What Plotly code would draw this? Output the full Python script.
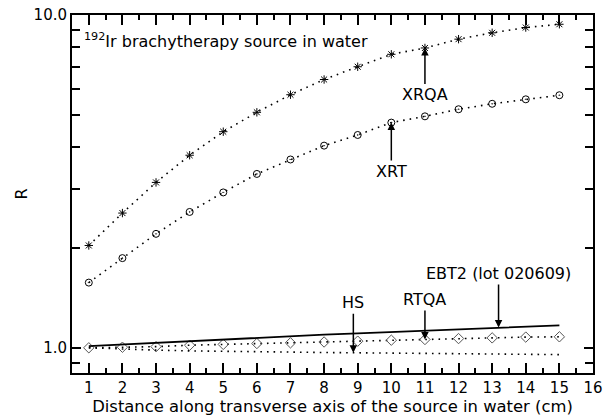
import math
import plotly.graph_objects as go

# ---- data ----
distance = [1, 2, 3, 4, 5, 6, 7, 8, 9, 10, 11, 12, 13, 14, 15]
xrqa = [2.03, 2.54, 3.14, 3.79, 4.46, 5.10, 5.76, 6.40, 6.99, 7.62, 7.96, 8.46, 8.84, 9.17, 9.38]
xrt = [1.57, 1.86, 2.20, 2.56, 2.93, 3.33, 3.68, 4.05, 4.36, 4.75, 4.96, 5.21, 5.41, 5.58, 5.74]
rtqa = [1.000, 1.004, 1.008, 1.018, 1.024, 1.030, 1.035, 1.041, 1.047, 1.054, 1.059, 1.066, 1.071, 1.077, 1.079]
ebt2 = [1.011, 1.023, 1.035, 1.047, 1.059, 1.071, 1.083, 1.095, 1.105, 1.116, 1.127, 1.137, 1.148, 1.158, 1.168]
hs = [1.000, 0.990, 0.984, 0.979, 0.975, 0.972, 0.970, 0.968, 0.966, 0.964, 0.962, 0.960, 0.958, 0.956, 0.954]

x_ticks = list(range(1, 17))
y_ticks = [1, 10]
y_ticktext = ["1.0", "10.0"]
y_minor_ticks = [0.9, 2, 3, 4, 5, 6, 7, 8, 9]

# annotation targets: label, x, y, pixel offset of label centre
ann_labels = ["XRQA", "XRT", "EBT2 (lot 020609)", "RTQA", "HS"]
ann_x = [11, 10, 13.19, 11, 8.87]
ann_y = [7.96, 4.75, 1.151, 1.059, 0.967]
ann_ay = [47, 49, -54, -40, -50]

FONT = "DejaVu Sans, Liberation Sans, Arial"
DOT = "1.6px,5px"

fig = go.Figure()
fig.add_trace(go.Scatter(x=distance, y=xrqa, mode="lines+markers", name="XRQA",
                         line=dict(color="black", width=1.6, dash=DOT),
                         marker=dict(symbol="asterisk-open", size=7,
                                     line=dict(color="black", width=1))))
fig.add_trace(go.Scatter(x=distance, y=xrt, mode="lines+markers", name="XRT",
                         line=dict(color="black", width=1.6, dash=DOT),
                         marker=dict(symbol="circle-open-dot", size=7, color="black",
                                     line=dict(color="black", width=1))))
fig.add_trace(go.Scatter(x=distance, y=hs, mode="lines", name="HS",
                         line=dict(color="black", width=1.6, dash=DOT)))
fig.add_trace(go.Scatter(x=distance, y=rtqa, mode="lines+markers", name="RTQA",
                         line=dict(color="black", width=1.6, dash=DOT),
                         marker=dict(symbol="diamond-open", size=8, color="#555",
                                     line=dict(color="#555", width=1))))
fig.add_trace(go.Scatter(x=distance, y=ebt2, mode="lines", name="EBT2 (lot 020609)",
                         line=dict(color="black", width=1.8)))

for t, x, y, ay in zip(ann_labels, ann_x, ann_y, ann_ay):
    fig.add_annotation(x=x, y=math.log10(y), ax=0, ay=ay, text=t, showarrow=True,
                       arrowhead=2, arrowsize=1, arrowwidth=1.5, arrowcolor="black",
                       standoff=0, font=dict(family=FONT, size=16, color="black"))

fig.add_annotation(xref="paper", yref="paper", x=0.019, y=0.929, xanchor="left",
                   yanchor="middle", showarrow=False,
                   text="<sup>192</sup>Ir brachytherapy source in water",
                   font=dict(family=FONT, size=16, color="black"))

fig.update_layout(
    width=605, height=419,
    margin=dict(l=72, r=12, t=15, b=46),
    paper_bgcolor="white", plot_bgcolor="white",
    showlegend=False,
    font=dict(family=FONT, size=15, color="black"),
    xaxis=dict(range=[0.5, 16], tickvals=x_ticks, ticks="inside", ticklen=10,
               tickwidth=1.5, tickcolor="black", automargin=False,
               minor=dict(dtick=0.5, tick0=0.5, ticks="inside", ticklen=5,
                          tickwidth=1.5, tickcolor="black"),
               showline=True, linewidth=2, linecolor="black", mirror="allticks",
               showgrid=False, zeroline=False,
               title=dict(text="Distance along transverse axis of the source in water (cm)",
                          font=dict(size=16.4), standoff=2)),
    yaxis=dict(type="log", range=[math.log10(0.84), 1], tickvals=y_ticks,
               ticktext=y_ticktext, ticks="inside", ticklen=9, tickwidth=1.5,
               tickcolor="black", showline=True, linewidth=2, linecolor="black",
               minor=dict(tickmode="array", tickvals=y_minor_ticks, ticks="inside",
                          ticklen=8, tickwidth=1.5, tickcolor="black"),
               mirror="allticks", showgrid=False, zeroline=False, automargin=False,
               title=dict(text="R", font=dict(size=16), standoff=2)),
)

fig.write_html("out.html")
